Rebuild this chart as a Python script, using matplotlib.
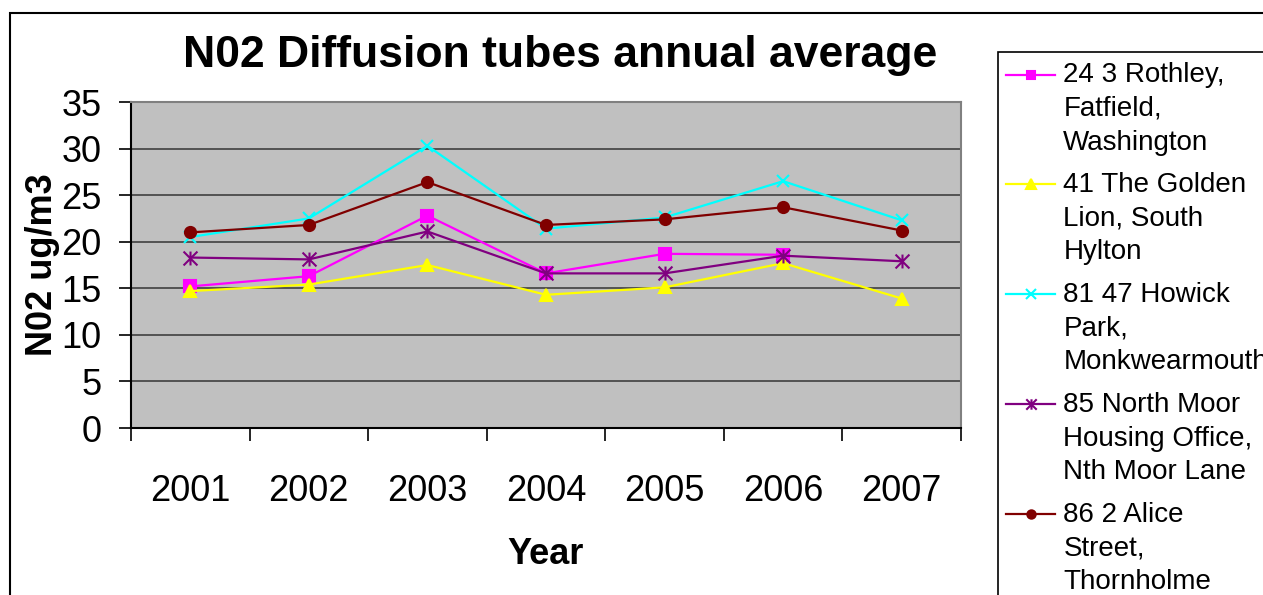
import matplotlib
matplotlib.use("Agg")
import matplotlib.pyplot as plt
from matplotlib.patches import Rectangle
from matplotlib.path import Path

plt.rcParams['font.family'] = ['Liberation Sans', 'DejaVu Sans']

years = ['2001', '2002', '2003', '2004', '2005', '2006', '2007']
rothley = [15.2, 16.3, 22.8, 16.6, 18.7, 18.6, None]
golden_lion = [14.7, 15.4, 17.5, 14.3, 15.1, 17.7, 13.9]
howick = [20.5, 22.5, 30.3, 21.4, 22.6, 26.5, 22.3]
north_moor = [18.3, 18.1, 21.1, 16.6, 16.6, 18.5, 17.9]
alice_st = [21.0, 21.8, 26.4, 21.8, 22.4, 23.7, 21.2]

labels = ['24 3 Rothley,\nFatfield,\nWashington',
          '41 The Golden\nLion, South\nHylton',
          '81 47 Howick\nPark,\nMonkwearmouth',
          '85 North Moor\nHousing Office,\nNth Moor Lane',
          '86 2 Alice\nStreet,\nThornholme']

# excel style star: an X with a vertical bar through it
star = Path([(0, -1), (0, 1), (-1, -1), (1, 1), (-1, 1), (1, -1)],
            [Path.MOVETO, Path.LINETO, Path.MOVETO, Path.LINETO, Path.MOVETO, Path.LINETO])

series = [
    (rothley, '#FF00FF', 's', 8),
    (golden_lion, '#FFFF00', '^', 9),
    (howick, '#00FFFF', 'x', 9),
    (north_moor, '#800080', star, 10),
    (alice_st, '#800000', 'o', 8),
]

fig = plt.figure(figsize=(12.63, 5.95), dpi=100)
ax = fig.add_axes([131 / 1263, 1 - 428 / 595, 830 / 1263, 326 / 595])
ax.set_facecolor('#C0C0C0')

x = list(range(len(years)))
handles = []
for (vals, col, mk, ms) in series:
    xs = [i for i, v in zip(x, vals) if v is not None]
    ys = [v for v in vals if v is not None]
    h, = ax.plot(xs, ys, color=col, marker=mk, markersize=ms, lw=1.6,
                 markeredgecolor=col, markerfacecolor=col, mew=1.5, zorder=3)
    handles.append(h)

ax.set_xlim(-0.5, 6.5)
ax.set_ylim(0, 35)
ax.set_yticks(range(0, 36, 5))
ax.tick_params(axis='y', labelsize=26, length=9, width=1.2, direction='out', pad=12)
ax.set_xticks([i - 0.5 for i in range(8)])
ax.set_xticklabels([])
ax.set_xticks(x, minor=True)
ax.set_xticklabels(years, minor=True)
ax.tick_params(axis='x', which='major', length=9, width=1.2, direction='out')
ax.tick_params(axis='x', which='minor', length=0, labelsize=26, pad=33)

ax.grid(axis='y', color='#404040', lw=1.2)
ax.set_axisbelow(True)
for s in ['left', 'bottom']:
    ax.spines[s].set_color('black')
    ax.spines[s].set_linewidth(1.5)
for s in ['top', 'right']:
    ax.spines[s].set_color('#808080')
    ax.spines[s].set_linewidth(1.5)

ax.set_xlabel('Year', fontsize=26, fontweight='bold')
ax.xaxis.set_label_coords(0.5, -0.335)
ax.set_ylabel('N02 ug/m3', fontsize=26, fontweight='bold')
ax.yaxis.set_label_coords(-0.085, 0.5)

fig.text(560 / 1263, 1 - 55 / 595, 'N02 Diffusion tubes annual average',
         fontsize=32, fontweight='bold', ha='center', va='center')

# outer chart border, runs off the right and bottom edges
fig.add_artist(Rectangle((10 / 1263, -0.5), 2, 1.5 - 13 / 595,
                         transform=fig.transFigure, fill=False,
                         edgecolor='black', lw=1.5, clip_on=False))
# legend box, also running off the edges
fig.add_artist(Rectangle((998 / 1263, -0.5), 2, 1.5 - 52 / 595,
                         transform=fig.transFigure, fill=True, facecolor='white',
                         edgecolor='black', lw=1.2, clip_on=False))

leg = fig.legend(handles, labels, loc='upper left',
                 bbox_to_anchor=(998 / 1263, 1 - 54 / 595),
                 fontsize=20, frameon=False,
                 handlelength=1.75, handletextpad=0.3, borderpad=0.3,
                 labelspacing=0.6, markerscale=0.75, handleheight=1.3,
                 borderaxespad=0)
for t in leg.get_texts():
    t.set_linespacing(1.38)
for col in leg._legend_handle_box.get_children():
    for row in col.get_children():
        row.align = 'top'

fig.savefig('out.png', dpi=100)
